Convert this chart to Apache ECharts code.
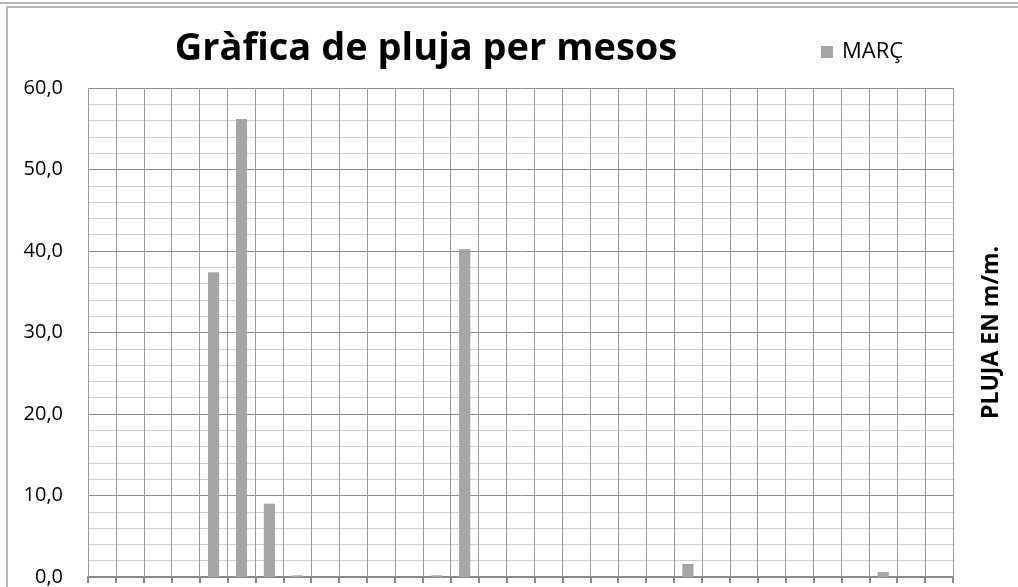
<!DOCTYPE html>
<html>
<head>
<meta charset="utf-8">
<script src="https://cdn.jsdelivr.net/npm/echarts@6/dist/echarts.min.js"></script>
<style>
  html, body { margin: 0; padding: 0; background: #fff; }
  #chart { width: 1018px; height: 587px; }
</style>
</head>
<body>
<div id="chart"></div>
<script>
// dies de març
const days = Array.from({ length: 31 }, (_, i) => String(i + 1));
// pluja en mm per dia
const rain = [
  0, 0, 0, 0, 37.4, 56.2, 9.0, 0.2, 0, 0,
  0, 0, 0.2, 40.2, 0, 0, 0, 0, 0, 0,
  0, 1.6, 0, 0, 0, 0, 0, 0, 0.6, 0,
  0
];
const seriesName = 'MARÇ';
const titleText = 'Gràfica de pluja per mesos';
const axisName = 'PLUJA EN m/m.';

const font = '"Open Sans", "Noto Sans", sans-serif';
const chart = echarts.init(document.getElementById('chart'));

const option = {
  animation: false,
  title: {
    text: titleText,
    left: 421,
    textAlign: 'center',
    top: 25,
    textStyle: { fontFamily: font, fontSize: 38, fontWeight: 'bold', color: '#000' }
  },
  legend: {
    data: [seriesName],
    left: 821,
    top: 41,
    padding: 0,
    icon: 'rect',
    itemWidth: 12,
    itemHeight: 12,
    textStyle: { fontFamily: font, fontSize: 22, color: '#000', padding: [0, 0, 0, 4] }
  },
  grid: { left: 88, right: 65, top: 88, bottom: 10, containLabel: false },
  xAxis: {
    type: 'category',
    data: days,
    axisLine: { lineStyle: { color: '#8a8a8a', width: 2 } },
    axisTick: { show: true, length: 6, lineStyle: { color: '#8a8a8a', width: 2 } },
    axisLabel: { show: false },
    splitLine: { show: true, interval: 0, lineStyle: { color: '#999', width: 1 } }
  },
  yAxis: [
    {
      type: 'value',
      min: 0,
      max: 60,
      interval: 10,
      axisLine: { show: false },
      axisTick: { show: false },
      axisLabel: {
        margin: 25,
        fontFamily: font,
        fontSize: 20,
        color: '#000',
        formatter: v => v.toFixed(1).replace('.', ',')
      },
      splitLine: { show: true, lineStyle: { color: '#8e8e8e', width: 1 } },
      minorTick: { show: false, splitNumber: 5 },
      minorSplitLine: { show: true, lineStyle: { color: '#cfcfcf', width: 1 } }
    },
    {
      type: 'value',
      position: 'right',
      min: 0,
      max: 60,
      name: axisName,
      nameLocation: 'middle',
      nameRotate: 90,
      nameGap: 27,
      nameTextStyle: { fontFamily: font, fontSize: 23, fontWeight: 'bold', color: '#000', padding: [0, 0, 8, 0] },
      axisLine: { show: false },
      axisTick: { show: false },
      axisLabel: { show: false },
      splitLine: { show: false }
    }
  ],
  series: [
    {
      name: seriesName,
      type: 'bar',
      data: rain,
      barWidth: '40%',
      itemStyle: { color: '#a5a5a5' }
    }
  ],
  graphic: [
    { type: 'line', shape: { x1: 0, y1: 3, x2: 1018, y2: 3 }, style: { stroke: '#b4b4b4', lineWidth: 2 } },
    { type: 'line', shape: { x1: 6, y1: 7, x2: 1018, y2: 7 }, style: { stroke: '#b4b4b4', lineWidth: 2 } },
    { type: 'line', shape: { x1: 7, y1: 6, x2: 7, y2: 587 }, style: { stroke: '#b4b4b4', lineWidth: 2 } }
  ]
};

chart.setOption(option);
</script>
</body>
</html>
